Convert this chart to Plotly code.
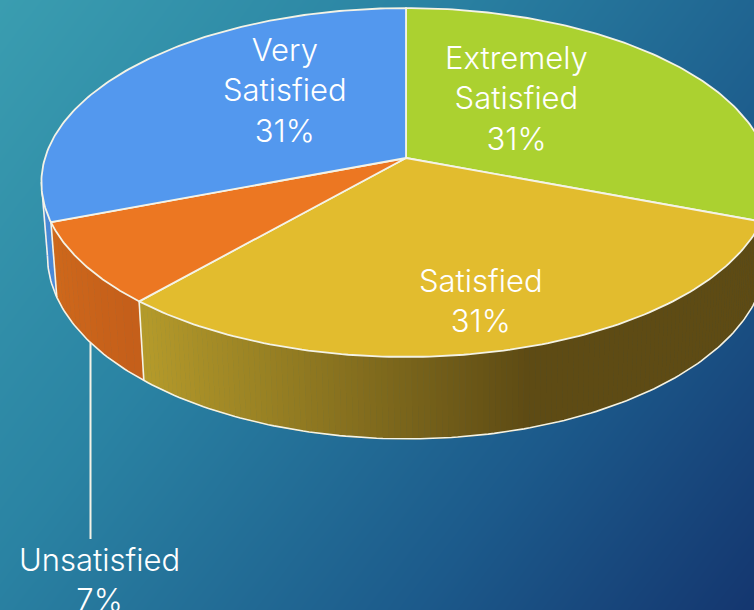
import numpy as np
import plotly.graph_objects as go

# Slices, clockwise from 12 o'clock
categories = ['Extremely<br>Satisfied', 'Satisfied', 'Unsatisfied', 'Very<br>Satisfied']
values = [30.75, 30.75, 7.7, 30.8]
pct_labels = ['31%', '31%', '7%', '31%']
top_colors = ['#ABD130', '#E2BC2E', '#EC7722', '#5398EE']
label_x = [516, 481, 99, 285]
label_y = [98, 300, 579, 90]

# background gradient stops
bg_stops = [[0, '#3A9DB0'], [0.35, '#2A83A3'], [0.72, '#1C5A8B'], [1, '#14366F']]

W, H = 754, 610
EDGE = '#F4F3E6'
FONT = 'Inter'

# pie projection in pixel coordinates
CX, CY, A, B, P = 406, 158, 361, 171, 0.1405
LOW_CX, LOW_CY, LOW_A, LOW_B = 407, 230, 356, 179.5
WALL_END = np.radians(262)


def project(theta, cx=CX, cy=CY, a=A, b=B):
    u = np.sin(theta)
    v = -np.cos(theta)
    w = 1 - P * v
    return cx + a * u / w, cy + b * v / w


def project_low(theta):
    return project(theta, LOW_CX, LOW_CY, LOW_A, LOW_B)


def mix(c1, c2, t):
    a = [int(c1[i:i + 2], 16) for i in (1, 3, 5)]
    b = [int(c2[i:i + 2], 16) for i in (1, 3, 5)]
    return 'rgb(%d,%d,%d)' % tuple(a[i] + (b[i] - a[i]) * t for i in range(3))


edges = np.concatenate([[0], np.cumsum(values)]) / sum(values) * 2 * np.pi

fig = go.Figure()

# background
gx = np.linspace(0, W, 40)
gy = np.linspace(0, H, 40)
gz = (gx[None, :] / W * 0.62 + gy[:, None] / H * 0.38)
fig.add_trace(go.Heatmap(x=gx, y=gy, z=gz, colorscale=bg_stops, zmin=0, zmax=1,
                         zsmooth='best', showscale=False, hoverinfo='skip'))


def add_strip(t0, t1, color):
    x0, y0 = project(np.array([t0, t1]))
    x1, y1 = project_low(np.array([t1, t0]))
    fig.add_trace(go.Scatter(x=list(x0) + list(x1), y=list(y0) + list(y1), mode='lines',
                             fill='toself', fillcolor=color, line=dict(color=color, width=1),
                             hoverinfo='skip', showlegend=False))


# side wall, left part first
blue_wall = np.linspace(edges[3], WALL_END, 10)
for t0, t1 in zip(blue_wall[:-1], blue_wall[1:]):
    add_strip(t0, t1, '#4C8AD8')

orange_wall = np.linspace(edges[2], edges[3], 16)
for i, (t0, t1) in enumerate(zip(orange_wall[:-1], orange_wall[1:])):
    add_strip(t0, t1, mix('#C55F1A', '#CF691C', i / 14))

yellow_wall = np.linspace(np.pi / 2, edges[2], 160)
for t0, t1 in zip(yellow_wall[:-1], yellow_wall[1:]):
    xm = project_low((t0 + t1) / 2)[0]
    f = np.clip((xm - 145) / (530 - 145), 0, 1)
    add_strip(t0, t1, mix('#B59B2B', '#5E4B14', f))

# lower rim and wall corners
rim = np.linspace(np.pi / 2, WALL_END, 200)
rx, ry = project_low(rim)
fig.add_trace(go.Scatter(x=rx, y=ry, mode='lines', line=dict(color=EDGE, width=1.6),
                         hoverinfo='skip', showlegend=False))
for t in (edges[2], edges[3], WALL_END):
    px0, py0 = project(t)
    px1, py1 = project_low(t)
    fig.add_trace(go.Scatter(x=[px0, px1], y=[py0, py1], mode='lines',
                             line=dict(color=EDGE, width=1.6),
                             hoverinfo='skip', showlegend=False))

# top face
for i in range(len(values)):
    t = np.linspace(edges[i], edges[i + 1], 120)
    sx, sy = project(t)
    fig.add_trace(go.Scatter(x=[CX] + list(sx) + [CX], y=[CY] + list(sy) + [CY], mode='lines',
                             fill='toself', fillcolor=top_colors[i],
                             line=dict(color=EDGE, width=1.8),
                             hoverinfo='skip', showlegend=False))

# leader for the small slice
fig.add_shape(type='line', x0=90.5, x1=90.5, y0=343, y1=539, line=dict(color=EDGE, width=2))

for i in range(len(values)):
    fig.add_annotation(x=label_x[i], y=label_y[i], text=categories[i] + '<br>' + pct_labels[i],
                       showarrow=False, align='center', xanchor='center', yanchor='middle',
                       font=dict(family=FONT, size=31, color='#FFFFFF', weight=300))

fig.update_layout(
    width=W, height=H, margin=dict(l=0, r=0, t=0, b=0), showlegend=False,
    paper_bgcolor='#1F5F8F', plot_bgcolor='#1F5F8F',
    xaxis=dict(range=[0, W], visible=False, fixedrange=True),
    yaxis=dict(range=[H, 0], visible=False, fixedrange=True),
)

fig.write_html('out.html', post_script="document.body.style.margin='0';",
               config={'displayModeBar': False})
